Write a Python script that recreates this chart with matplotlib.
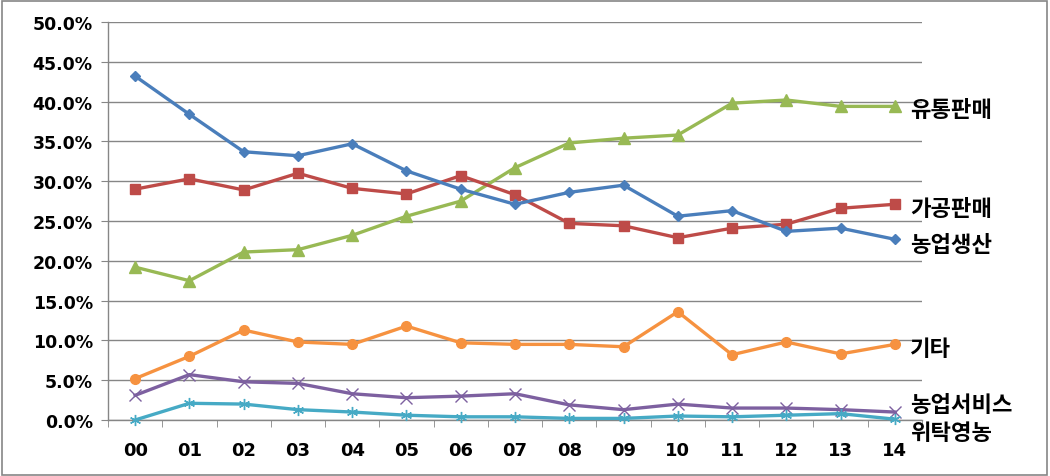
import matplotlib
matplotlib.use("Agg")
import matplotlib.pyplot as plt
import numpy as np

plt.rcParams["font.family"] = ["Noto Sans CJK KR", "DejaVu Sans"]

years = ["00", "01", "02", "03", "04", "05", "06", "07", "08", "09", "10", "11", "12", "13", "14"]

farm_prod = [43.2, 38.4, 33.7, 33.2, 34.7, 31.3, 29.0, 27.1, 28.6, 29.5, 25.6, 26.3, 23.7, 24.1, 22.7]
processing = [29.0, 30.3, 28.9, 31.0, 29.1, 28.4, 30.7, 28.3, 24.7, 24.4, 22.9, 24.1, 24.6, 26.6, 27.1]
distribution = [19.2, 17.5, 21.1, 21.4, 23.2, 25.6, 27.5, 31.7, 34.8, 35.4, 35.8, 39.8, 40.2, 39.4, 39.4]
others = [5.2, 8.0, 11.3, 9.8, 9.5, 11.8, 9.7, 9.5, 9.5, 9.2, 13.6, 8.2, 9.8, 8.3, 9.5]
farm_service = [3.1, 5.7, 4.8, 4.6, 3.3, 2.8, 3.0, 3.3, 1.9, 1.3, 2.0, 1.5, 1.5, 1.3, 1.0]
consignment = [0.0, 2.1, 2.0, 1.3, 1.0, 0.6, 0.4, 0.4, 0.2, 0.2, 0.5, 0.4, 0.6, 0.8, 0.1]

# name, values, colour, marker, marker size, y of the end label
series = [
    ("유통판매", distribution, "#98B954", "^", 8, 39.0),
    ("가공판매", processing, "#BE4B48", "s", 7, 26.6),
    ("농업생산", farm_prod, "#4A7EBB", "D", 5, 22.1),
    ("기타", others, "#F69240", "o", 7, 9.0),
    ("농업서비스", farm_service, "#7D60A0", "x", 8, 1.9),
    ("위탁영농", consignment, "#46AAC5", (6, 2, 0), 8, -1.6),
]

fig = plt.figure(figsize=(10.5, 4.77), dpi=100)
ax = fig.add_axes([108 / 1050, 1 - 421 / 477, (922 - 108) / 1050, (421 - 23) / 477])

x = np.arange(len(years))
for name, vals, color, marker, ms, label_y in series:
    ax.plot(x, vals, color=color, lw=2.4, marker=marker, markersize=ms,
            markeredgecolor=color, markerfacecolor=color, markeredgewidth=1.0,
            clip_on=False, zorder=3)
    ax.text(14.28, label_y, name, fontsize=16, fontweight="bold", va="center",
            ha="left", color="black", clip_on=False)

ax.set_xlim(-0.5, 14.5)
ax.set_ylim(0, 50)
ax.set_yticks(np.arange(0, 51, 5))
ax.set_yticklabels([f"{v:.1f}%" for v in np.arange(0, 51, 5)],
                   fontsize=12.5, fontweight="bold", family="DejaVu Sans")
ax.set_xticks(x)
ax.set_xticklabels(years, fontsize=13, fontweight="bold", family="DejaVu Sans")
ax.set_xticks(np.arange(-0.5, 15, 1), minor=True)
ax.tick_params(axis="x", which="major", length=0, pad=15)
ax.tick_params(axis="x", which="minor", length=5, color="#868686", direction="out")
ax.tick_params(axis="y", length=5, color="#868686", direction="out", pad=6)

ax.grid(axis="y", color="#868686", lw=1.0)
ax.set_axisbelow(True)
for side in ["top", "right"]:
    ax.spines[side].set_visible(False)
for side in ["left", "bottom"]:
    ax.spines[side].set_color("#868686")
    ax.spines[side].set_linewidth(1.0)

fig.patches.append(plt.Rectangle((0.002, 0.003), 0.995, 0.993, transform=fig.transFigure,
                                 fill=False, edgecolor="#868686", lw=1.2))

fig.savefig("out.png", dpi=100)
